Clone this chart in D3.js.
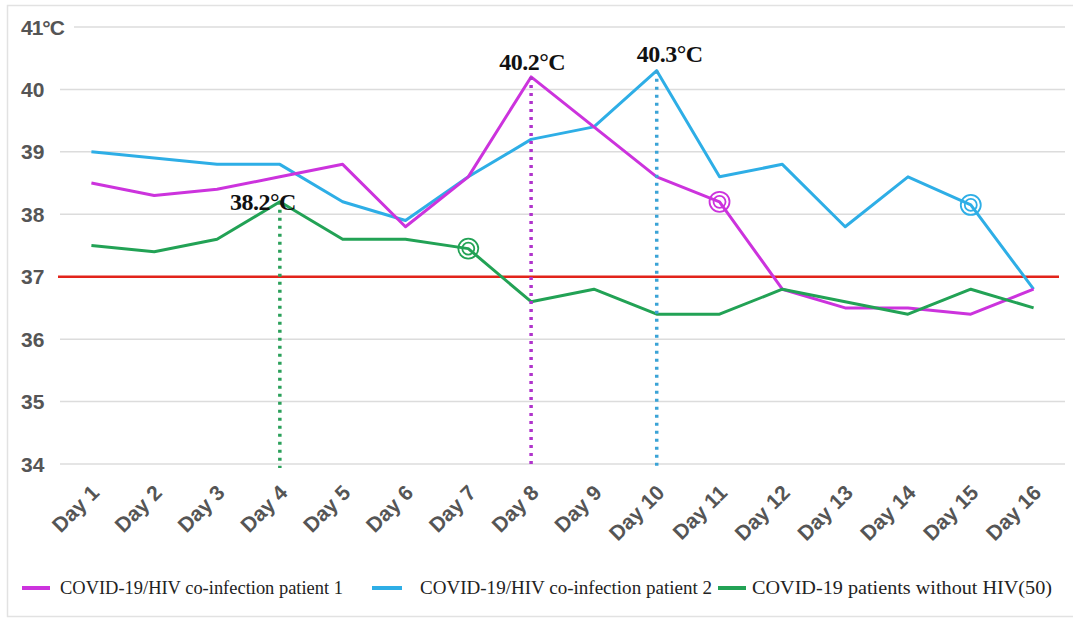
<!DOCTYPE html>
<html>
<head>
<meta charset="utf-8">
<script src="https://cdn.jsdelivr.net/npm/d3@7/dist/d3.min.js"></script>
<style>
  html, body { margin: 0; padding: 0; background: #fff; }
  svg { display: block; }
</style>
</head>
<body>
<svg id="chart" width="1073" height="619"></svg>
<script>
// ---- data ----
const days = ["Day 1","Day 2","Day 3","Day 4","Day 5","Day 6","Day 7","Day 8",
              "Day 9","Day 10","Day 11","Day 12","Day 13","Day 14","Day 15","Day 16"];
const patient1 = [38.5,38.3,38.4,38.6,38.8,37.8,38.6,40.2,39.4,38.6,38.2,36.8,36.5,36.5,36.4,36.8];
const patient2 = [39.0,38.9,38.8,38.8,38.2,37.9,38.6,39.2,39.4,40.3,38.6,38.8,37.8,38.6,38.15,36.8];
const withoutHIV = [37.5,37.4,37.6,38.2,37.6,37.6,37.45,36.6,36.8,36.4,36.4,36.8,36.6,36.4,36.8,36.5];
const seriesNames = ["COVID-19/HIV co-infection patient 1","COVID-19/HIV co-infection patient 2","COVID-19 patients without HIV(50)"];
const yTicks = [34,35,36,37,38,39,40,41];
const yTickLabels = ["34","35","36","37","38","39","40","41°C"];
const normalTemp = 37;
// peak annotations
const peakSeries = [2, 0, 1];
const peakDays = ["Day 4","Day 8","Day 10"];
const peakLabels = ["38.2°C","40.2°C","40.3°C"];
// double-circle markers
const markSeries = [2, 0, 1];
const markDays = ["Day 7","Day 11","Day 15"];

// ---- styles ----
const colors = ["#cc33dd", "#2eaee6", "#22a255"];
const dotColors = ["#b034cc", "#3aa3d6", "#2aa05a"];
const allSeries = [patient1, patient2, withoutHIV];

const svg = d3.select("#chart");
const x = d3.scalePoint().domain(days).range([60, 1065]).padding(0.5);
const y = d3.scaleLinear().domain([34, 41]).range([464, 27]);

// frame
svg.append("rect").attr("x", 7.5).attr("y", 5.5).attr("width", 1075).attr("height", 611)
  .attr("fill", "none").attr("stroke", "#e2e2e2").attr("stroke-width", 1.5);

// y axis labels
svg.append("g").selectAll("text").data(yTicks).join("text")
  .attr("x", 21).attr("y", d => y(d)).attr("dy", "0.36em")
  .attr("font-family", "Liberation Sans, Arial, sans-serif")
  .attr("font-size", 21).attr("font-weight", "bold").attr("fill", "#555")
  .attr("letter-spacing", d => d === 41 ? -1 : 0)
  .text((d, i) => yTickLabels[i]);

// gridlines
svg.append("g").selectAll("line").data(yTicks.filter(d => d !== normalTemp)).join("line")
  .attr("x1", d => d === 41 ? 74 : 60).attr("x2", 1065)
  .attr("y1", d => y(d)).attr("y2", d => y(d))
  .attr("stroke", "#dcdcdc").attr("stroke-width", 1.5);

// x axis labels
svg.append("g").selectAll("text").data(days).join("text")
  .attr("transform", d => `translate(${x(d) + 9},${494}) rotate(-45)`)
  .attr("text-anchor", "end")
  .attr("font-family", "Liberation Sans, Arial, sans-serif")
  .attr("font-size", 21).attr("font-weight", "bold").attr("fill", "#555")
  .text(d => d);

// normal temperature line
svg.append("line").attr("x1", 58).attr("x2", 1059)
  .attr("y1", y(normalTemp)).attr("y2", y(normalTemp))
  .attr("stroke", "#e2231a").attr("stroke-width", 2.5);

// series lines
const line = d3.line().x((d, i) => x(days[i])).y(d => y(d));
[1, 0, 2].forEach(s => {
  svg.append("path").datum(allSeries[s]).attr("d", line)
    .attr("fill", "none").attr("stroke", colors[s]).attr("stroke-width", 3)
    .attr("stroke-linejoin", "round");
});

// dotted peak lines
peakDays.forEach((d, k) => {
  const s = peakSeries[k];
  const v = allSeries[s][days.indexOf(d)];
  svg.append("line").attr("x1", x(d)).attr("x2", x(d))
    .attr("y1", y(v)).attr("y2", y(34) + 4)
    .attr("stroke", dotColors[s]).attr("stroke-width", 3.5)
    .attr("stroke-dasharray", "3,5");
});

// peak labels
const labelOffsets = [[-17, 8], [1, -7], [13, -9]];
peakDays.forEach((d, k) => {
  const s = peakSeries[k];
  const v = allSeries[s][days.indexOf(d)];
  svg.append("text").attr("x", x(d) + labelOffsets[k][0]).attr("y", y(v) + labelOffsets[k][1])
    .attr("text-anchor", "middle")
    .attr("font-family", "Liberation Serif, Times New Roman, serif")
    .attr("font-size", 24).attr("font-weight", "bold").attr("fill", "#111")
    .attr("letter-spacing", -0.5)
    .text(peakLabels[k]);
});

// double circles
markDays.forEach((d, k) => {
  const s = markSeries[k];
  const v = allSeries[s][days.indexOf(d)];
  [10, 6].forEach(r => {
    svg.append("circle").attr("cx", x(d)).attr("cy", y(v)).attr("r", r)
      .attr("fill", "none").attr("stroke", colors[s]).attr("stroke-width", 1.8);
  });
});

// legend
const legendPos = [[22, 50, 60, 283], [372, 402, 420, 292], [718, 746, 752, 300]];
seriesNames.forEach((name, s) => {
  const p = legendPos[s];
  svg.append("line").attr("x1", p[0]).attr("x2", p[1]).attr("y1", 588).attr("y2", 588)
    .attr("stroke", colors[s]).attr("stroke-width", 4);
  svg.append("text").attr("x", p[2]).attr("y", 588).attr("dy", "0.35em")
    .attr("font-family", "Liberation Serif, Times New Roman, serif")
    .attr("font-size", 18.5).attr("fill", "#222")
    .attr("textLength", p[3]).attr("lengthAdjust", "spacingAndGlyphs")
    .text(name);
});
</script>
</body>
</html>
